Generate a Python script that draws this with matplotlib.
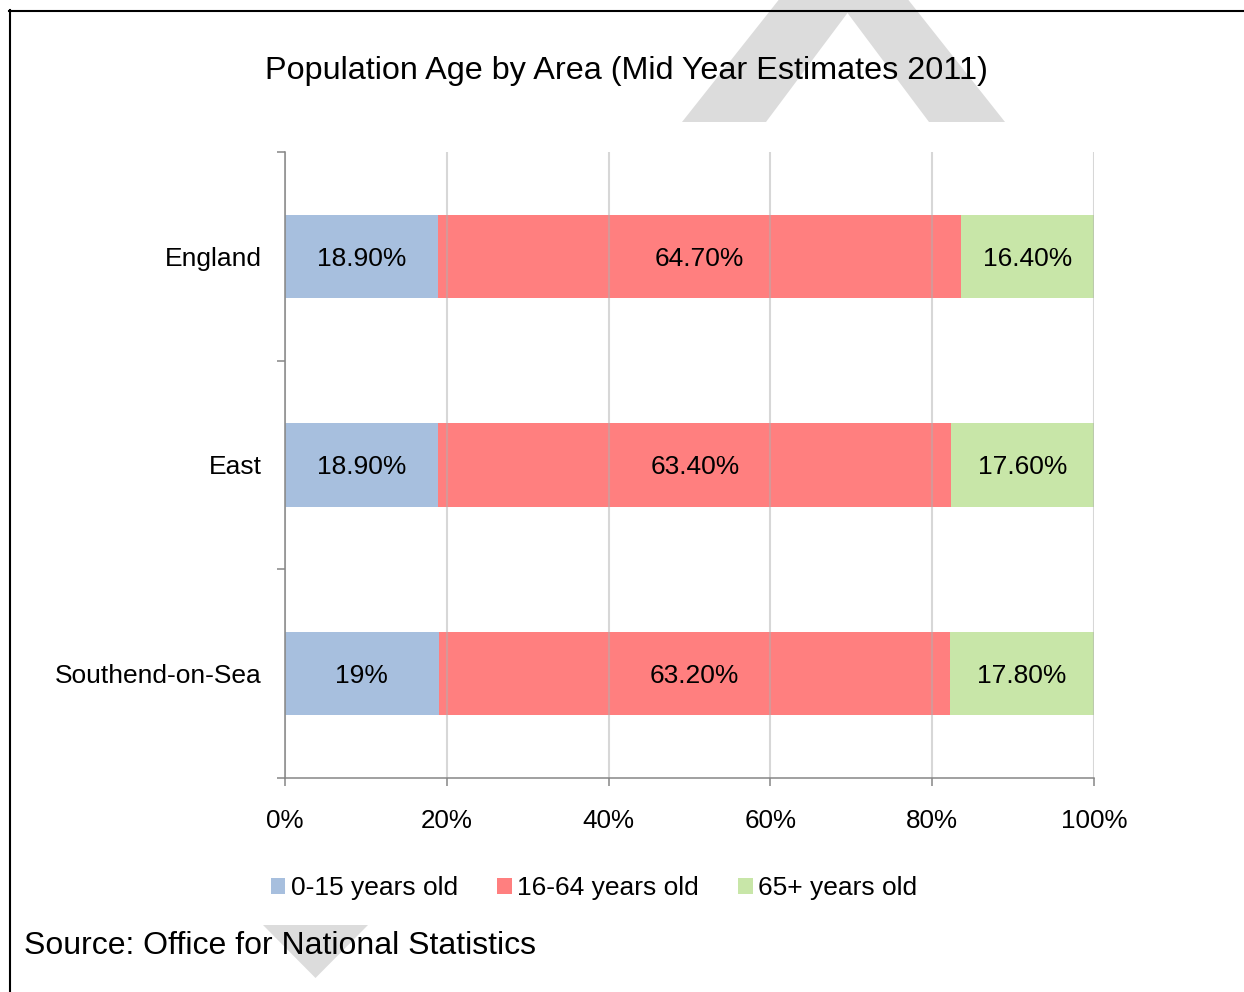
import matplotlib
matplotlib.use("Agg")
import matplotlib.pyplot as plt
from matplotlib.patches import Polygon, Patch
from matplotlib.lines import Line2D
import numpy as np

plt.rcParams['font.family'] = ['Liberation Sans', 'DejaVu Sans']

# ---- data ----
areas = ["England", "East", "Southend-on-Sea"]
series_names = ["0-15 years old", "16-64 years old", "65+ years old"]
age_0_15 = [18.9, 18.9, 19.0]
age_16_64 = [64.7, 63.4, 63.2]
age_65_plus = [16.4, 17.6, 17.8]
value_labels = [
    ["18.90%", "18.90%", "19%"],
    ["64.70%", "63.40%", "63.20%"],
    ["16.40%", "17.60%", "17.80%"],
]
xticks = [0, 20, 40, 60, 80, 100]
xtick_labels = ["0%", "20%", "40%", "60%", "80%", "100%"]
title = "Population Age by Area (Mid Year Estimates 2011)"
source = "Source: Office for National Statistics"
colors = ["#A7BFDE", "#FF7F7F", "#C8E6A8"]

W, H = 1244, 992
fig = plt.figure(figsize=(W / 100, H / 100), dpi=100)
fig.patch.set_facecolor("white")

def fx(px):
    return px / W

def fy(py):
    return 1 - py / H

# watermark shapes (background)
wm = "#DCDCDC"
outer = [(682, 122), (1005, 122), (843.5, -82)]
inner = [(766, 122), (929, 122), (847.5, 13)]
fig.patches.append(Polygon([(fx(x), fy(y)) for x, y in outer], closed=True,
                           transform=fig.transFigure, facecolor=wm, edgecolor="none", zorder=0))
fig.patches.append(Polygon([(fx(x), fy(y)) for x, y in inner], closed=True,
                           transform=fig.transFigure, facecolor="white", edgecolor="none", zorder=0))
tri = [(263, 925), (368, 925), (315.5, 978)]
fig.patches.append(Polygon([(fx(x), fy(y)) for x, y in tri], closed=True,
                           transform=fig.transFigure, facecolor=wm, edgecolor="none", zorder=0))

# border lines
fig.add_artist(Line2D([fx(9), fx(1244)], [fy(10.5), fy(10.5)], color="black", lw=1.5,
                      transform=fig.transFigure))
fig.add_artist(Line2D([fx(9.5), fx(9.5)], [fy(10), fy(992)], color="black", lw=1.5,
                      transform=fig.transFigure))

ax = fig.add_axes([fx(285), fy(778), fx(1094) - fx(285), (778 - 152) / H])
ax.set_facecolor("none")

data = np.array([age_0_15, age_16_64, age_65_plus])
totals = data.sum(axis=0)
shares = data / totals * 100
y = np.arange(len(areas))
left = np.zeros(len(areas))
for i in range(3):
    bars = ax.barh(y, shares[i], left=left, height=0.4, color=colors[i],
                   label=series_names[i], zorder=1)
    for j, b in enumerate(bars):
        ax.text(left[j] + shares[i][j] / 2, y[j], value_labels[i][j],
                ha="center", va="center_baseline", fontsize=19, color="black", zorder=3)
    left = left + shares[i]

ax.set_xlim(0, 100)
ax.set_ylim(len(areas) - 0.5, -0.5)
ax.set_xticks(xticks)
ax.set_xticklabels(xtick_labels, fontsize=18.7)
ax.set_yticks(y)
ax.set_yticklabels(areas, fontsize=19, va="center_baseline")
ax.set_yticks(np.arange(-0.5, len(areas), 1.0), minor=True)
ax.tick_params(axis="y", which="major", length=0, pad=17)
ax.tick_params(axis="y", which="minor", length=6, width=1.1, color="#868686", direction="out")
ax.tick_params(axis="x", which="major", length=6, width=1.1, color="#868686", direction="out", pad=16)

ax.set_axisbelow(False)
ax.grid(axis="x", color="#B0B0B0", alpha=0.5, lw=1.5, zorder=2)
ax.grid(axis="y", visible=False)
for s in ["top", "right"]:
    ax.spines[s].set_visible(False)
for s in ["left", "bottom"]:
    ax.spines[s].set_color("#868686")
    ax.spines[s].set_linewidth(1.1)
    ax.spines[s].set_zorder(4)

fig.text(fx(626), fy(71), title, ha="center", va="center", fontsize=23.3)
fig.text(fx(24), fy(946), source, ha="left", va="center", fontsize=23)

handles = [Patch(facecolor=c, edgecolor="none") for c in colors]
fig.legend(handles, series_names, loc="center", bbox_to_anchor=(fx(594), fy(888)),
           ncol=3, frameon=False, fontsize=19, handlelength=0.55, handleheight=0.55,
           handletextpad=0.2, columnspacing=1.5, borderpad=0)

fig.savefig("out.png", dpi=100, facecolor="white")
